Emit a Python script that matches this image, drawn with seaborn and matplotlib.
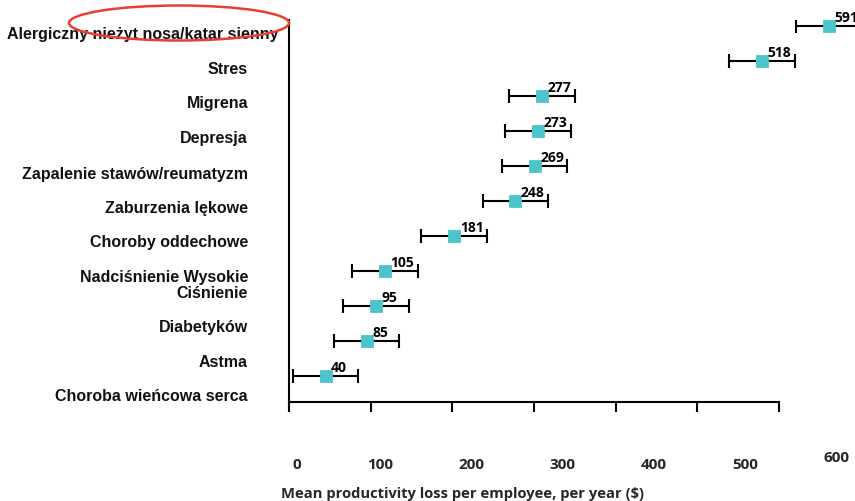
import pandas as pd
import numpy as np
import matplotlib
matplotlib.use("Agg")
import matplotlib.pyplot as plt
import matplotlib.transforms as mtransforms
from matplotlib.patches import Ellipse
import seaborn as sns

# data
conditions = [
    "Alergiczny nieżyt nosa/katar sienny",
    "Stres",
    "Migrena",
    "Depresja",
    "Zapalenie stawów/reumatyzm",
    "Zaburzenia lękowe",
    "Choroby oddechowe",
    "Nadciśnienie Wysokie\nCiśnienie",
    "Diabetyków",
    "Astma",
    "Choroba wieńcowa serca",
]
loss = [591, 518, 277, 273, 269, 248, 181, 105, 95, 85, 40]
err_low = [36, 36, 36, 36, 36, 36, 36, 36, 36, 36, 36]
err_high = [36, 36, 36, 36, 36, 36, 36, 36, 36, 36, 36]
x_ticks = [0, 100, 200, 300, 400, 500, 600]

df = pd.DataFrame({"condition": conditions, "loss": loss})

sns.set_theme(style="white")
plt.rcParams["font.family"] = ["Liberation Sans", "DejaVu Sans"]

fig = plt.figure(figsize=(8.55, 5.01), dpi=100)
ax = fig.add_axes([289 / 855, 1 - 402 / 501, 1 - 289 / 855, (402 - 20) / 501])

teal = "#4cc4cc"
ax.errorbar(x=loss, y=np.arange(len(loss)), xerr=[err_low, err_high], fmt="none",
            ecolor="black", elinewidth=1.5, capsize=4.7, capthick=1.5, zorder=2)
sns.pointplot(data=df, x="loss", y="condition", linestyle="none", marker="s",
              markersize=7, color=teal, errorbar=None, ax=ax, zorder=3)

for i, v in enumerate(loss):
    ax.annotate(str(v), (v, i), xytext=(4, 3), textcoords="offset points",
                ha="left", va="baseline", fontsize=10, fontweight="bold",
                family=["Open Sans", "DejaVu Sans"], color="black", zorder=4)

ax.set_xlim(0, 620)
ax.set_ylim(10.74, -0.17)
ax.set_ylabel("")
ax.set_xticks(x_ticks)
ax.set_xticklabels([str(t) for t in x_ticks], fontsize=11, fontweight="bold",
                   family=["Open Sans", "DejaVu Sans"])
ax.tick_params(axis="x", length=0, pad=40)
ax.tick_params(axis="y", length=0, pad=29.5)
ax.set_xlabel("Mean productivity loss per employee, per year ($)", fontsize=10.6,
              fontweight="bold", family=["Open Sans", "DejaVu Sans"], labelpad=11)
ax.xaxis.label.set_x(0.306)

for side in ["top", "right", "bottom"]:
    ax.spines[side].set_visible(False)
ax.spines["left"].set_color("black")
ax.spines["left"].set_linewidth(1.5)

# category labels sit a little below their points in the original
label_shift = [7, 7, 6, 6, 7, 6, 5, 12, 20, 20, 19]
label_dx = [30, 0, 0, 0, 0, 0, 0, 0, 0, 0, 0]
ax.set_yticks(range(len(conditions)))
ax.set_yticklabels(conditions, fontsize=11.5, fontweight="bold", color="#111111",
                   linespacing=1.15)
for lab, dy, dx in zip(ax.get_yticklabels(), label_shift, label_dx):
    lab.set_transform(lab.get_transform() +
                      mtransforms.ScaledTranslation(dx / 100, -dy / 100, fig.dpi_scale_trans))

xl = ax.get_xticklabels()
xl[0].set_transform(xl[0].get_transform() +
                    mtransforms.ScaledTranslation(0.08, 0, fig.dpi_scale_trans))
xl[-1].set_transform(xl[-1].get_transform() +
                     mtransforms.ScaledTranslation(0, 0.07, fig.dpi_scale_trans))

# the drawn axis line with its own tick spacing
ax2 = ax.twiny()
ax2.set_xlim(0, 600 * 566 / 490)
ax2.xaxis.set_ticks_position("bottom")
ax2.set_xticks(x_ticks)
ax2.set_xticklabels([])
ax2.tick_params(axis="x", length=7.5, width=1.5, color="black", direction="out")
for side in ["top", "right", "left"]:
    ax2.spines[side].set_visible(False)
ax2.spines["bottom"].set_color("black")
ax2.spines["bottom"].set_linewidth(1.5)
ax2.spines["bottom"].set_bounds(0, 600)

# red highlight ellipse around the top label
fig.patches.append(Ellipse((179 / 855, 1 - 23 / 501), 220 / 855, 35 / 501,
                           transform=fig.transFigure, fill=False,
                           edgecolor="#e8402f", linewidth=1.8, zorder=10))

fig.savefig("out.png", dpi=100)
